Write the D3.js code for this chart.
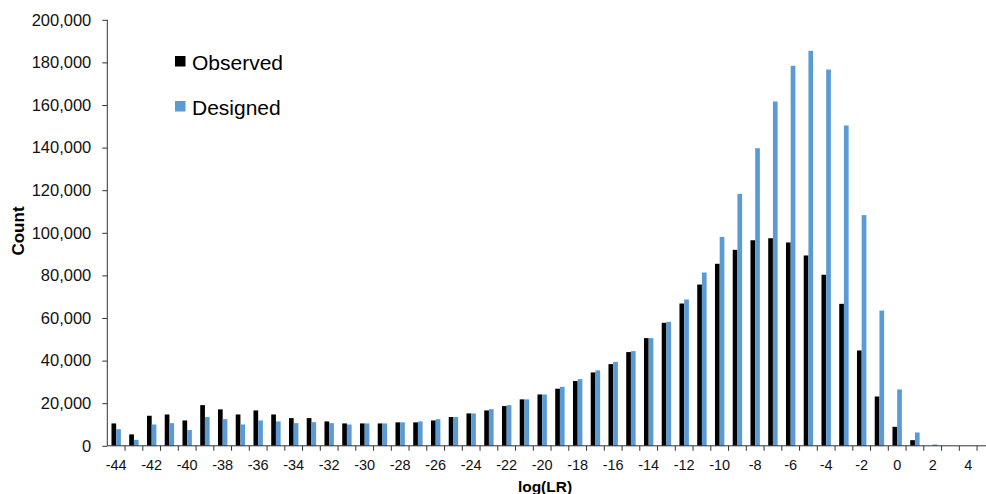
<!DOCTYPE html>
<html>
<head>
<meta charset="utf-8">
<script src="https://cdn.jsdelivr.net/npm/d3@7"></script>
<style>
  body { margin: 0; background: #fff; }
  text { font-family: "Liberation Sans", Arial, sans-serif; }
</style>
</head>
<body>
<script>
// categories log(LR) from -44 to 5
var categories = [-44, -43, -42, -41, -40, -39, -38, -37, -36, -35, -34, -33, -32, -31, -30,
  -29, -28, -27, -26, -25, -24, -23, -22, -21, -20, -19, -18, -17, -16, -15, -14, -13, -12,
  -11, -10, -9, -8, -7, -6, -5, -4, -3, -2, -1, 0, 1, 2, 3, 4, 5];

var observed = [10500, 5350, 14100, 14700, 11900, 19100, 17100, 14700, 16600, 14700, 13000, 13000,
  11450, 10500, 10500, 10500, 11000, 11000, 11900, 13500, 15200, 16600, 18650, 21800, 24100,
  26800, 30400, 34450, 38350, 44000, 50550, 57750, 66800, 75700, 85450, 92000, 96500, 97450,
  95450, 89350, 80300, 66650, 44750, 23150, 8900, 2650, 0, 0, 0, 0];

var designed = [7800, 2800, 10000, 10650, 7400, 13500, 12500, 10000, 11900, 11450, 10650, 11100,
  10650, 10000, 10500, 10500, 11000, 11450, 12500, 13500, 15200, 17200, 19100, 21800, 24100,
  27700, 31300, 35400, 39400, 44450, 50550, 58200, 68700, 81350, 98100, 118300, 139700, 161650,
  178400, 185450, 176650, 150400, 108300, 63500, 26450, 6250, 600, 0, 0, 0];

var yTicks = [0, 20000, 40000, 60000, 80000, 100000, 120000, 140000, 160000, 180000, 200000];
var xLabels = [-44, -42, -40, -38, -36, -34, -32, -30, -28, -26, -24, -22, -20, -18, -16, -14,
  -12, -10, -8, -6, -4, -2, 0, 2, 4];

var series = [
  { name: "Observed", values: observed, color: "#000000" },
  { name: "Designed", values: designed, color: "#5B9BD5" }
];

var w = 986, h = 494;
var plotLeft = 107.3, plotTop = 19.8, plotBottom = 445.8;
var step = 17.75;

var svg = d3.select("body").append("svg").attr("width", w).attr("height", h);

var x = d3.scaleBand()
    .domain(categories)
    .range([plotLeft, plotLeft + categories.length * step])
    .paddingInner(0).paddingOuter(0);

var y = d3.scaleLinear().domain([0, 200000]).range([plotBottom, plotTop]);

var barW = 4.7;
var inner = d3.scaleBand()
    .domain(series.map(function(s) { return s.name; }))
    .range([x.bandwidth() / 2 - barW, x.bandwidth() / 2 + barW]);

// bars
series.forEach(function(s) {
  svg.append("g").selectAll("rect")
    .data(s.values)
    .enter()
    .append("rect")
    .attr("x", function(d, i) { return x(categories[i]) + inner(s.name); })
    .attr("y", function(d) { return y(d); })
    .attr("width", inner.bandwidth())
    .attr("height", function(d) { return y(0) - y(d); })
    .attr("fill", s.color);
});

// y axis
var yAxis = d3.axisLeft(y)
    .tickValues(yTicks)
    .tickFormat(d3.format(","))
    .tickSize(5)
    .tickPadding(11);

var gy = svg.append("g").attr("transform", "translate(" + plotLeft + ",0)").call(yAxis);
gy.select(".domain").attr("stroke", "#333").attr("d", "M0," + y(200000) + "V" + y(0));
gy.selectAll(".tick line").attr("stroke", "#333");
gy.selectAll("text").attr("font-size", "16.5px").attr("fill", "#111")
  .style("font-family", "'Liberation Sans', Arial, sans-serif");

// x axis line and ticks at category boundaries
var gx = svg.append("g");
gx.append("line")
  .attr("x1", plotLeft).attr("x2", w)
  .attr("y1", plotBottom).attr("y2", plotBottom)
  .attr("stroke", "#333");
gx.selectAll(".xt")
  .data(categories)
  .enter()
  .append("line")
  .attr("x1", function(d) { return x(d) + x.bandwidth(); })
  .attr("x2", function(d) { return x(d) + x.bandwidth(); })
  .attr("y1", plotBottom).attr("y2", plotBottom + 5)
  .attr("stroke", "#333");

gx.selectAll(".xl")
  .data(xLabels)
  .enter()
  .append("text")
  .attr("x", function(d) { return x(d) + x.bandwidth() / 2; })
  .attr("y", plotBottom + 24)
  .attr("text-anchor", "middle")
  .attr("font-size", "14.5px")
  .attr("fill", "#111")
  .text(function(d) { return d; });

// axis titles
svg.append("text")
  .attr("x", 545).attr("y", 492)
  .attr("text-anchor", "middle")
  .attr("font-size", "15.5px")
  .attr("font-weight", "bold")
  .text("log(LR)");

svg.append("text")
  .attr("transform", "translate(24,231) rotate(-90)")
  .attr("text-anchor", "middle")
  .attr("font-size", "17px")
  .attr("font-weight", "bold")
  .text("Count");

// legend
var legend = svg.append("g").selectAll("g")
  .data(series)
  .enter()
  .append("g")
  .attr("transform", function(d, i) { return "translate(175," + (56 + i * 45) + ")"; });

legend.append("rect")
  .attr("width", 10.5).attr("height", 10.5)
  .attr("fill", function(d) { return d.color; });

legend.append("text")
  .attr("x", 17).attr("y", 14)
  .attr("font-size", "21px")
  .attr("fill", "#000")
  .text(function(d) { return d.name; });
</script>
</body>
</html>
